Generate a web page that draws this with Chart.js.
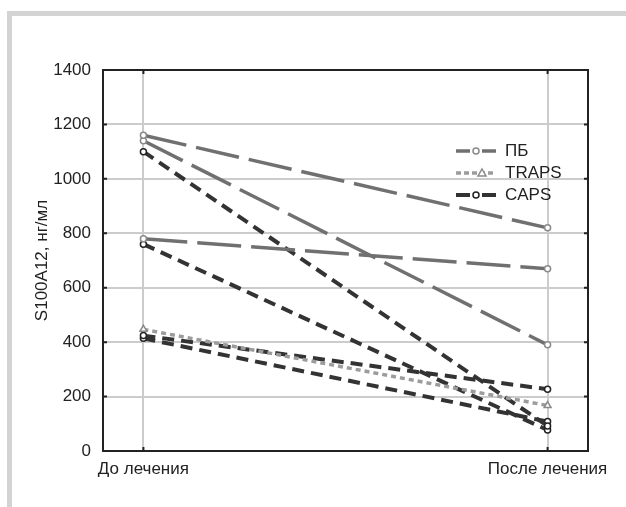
<!DOCTYPE html>
<html>
<head>
<meta charset="utf-8">
<script src="https://cdn.jsdelivr.net/npm/chart.js@4.4.1/dist/chart.umd.min.js"></script>
<style>
  html, body { margin: 0; padding: 0; background: #fff; }
  .frame {
    position: absolute; left: 7px; top: 11px; width: 619px; height: 496px;
    border-top: 5px solid #d3d3d3; border-left: 5px solid #d3d3d3;
    box-sizing: border-box;
  }
  #chart { position: absolute; left: 0; top: 0; }
</style>
</head>
<body>
<div class="frame"></div>
<canvas id="chart" width="626" height="507"></canvas>
<script>
const categories = ['До лечения', 'После лечения'];
const yTicks = [0, 200, 400, 600, 800, 1000, 1200, 1400];

// ПБ
const pbBefore = [1160, 1140, 780];
const pbAfter = [820, 390, 670];
// TRAPS
const trapsBefore = [447];
const trapsAfter = [167];
// CAPS
const capsBefore = [1100, 760, 424, 414];
const capsAfter = [92, 77, 227, 108];

const groups = [
  { name: 'ПБ', before: pbBefore, after: pbAfter, color: '#707070', width: 3.5, dash: [44, 10], point: 'circle', pointColor: '#8a8a8a' },
  { name: 'TRAPS', before: trapsBefore, after: trapsAfter, color: '#9c9c9c', width: 3.5, dash: [5, 4], point: 'triangle', pointColor: '#8a8a8a' },
  { name: 'CAPS', before: capsBefore, after: capsAfter, color: '#333333', width: 4, dash: [12, 7], point: 'circle', pointColor: '#222222' }
];

const datasets = [];
groups.forEach(g => {
  g.before.forEach((v, i) => {
    datasets.push({
      label: g.name,
      data: [{ x: 0, y: v }, { x: 1, y: g.after[i] }],
      borderColor: g.color,
      borderWidth: g.width,
      borderDash: g.dash,
      pointStyle: g.point,
      pointRadius: g.point === 'triangle' ? 4 : 3,
      pointBorderWidth: 1.5,
      pointBorderColor: g.pointColor,
      pointBackgroundColor: '#ffffff',
      fill: false
    });
  });
});

// рамка, внутренние риски и легенда
const framePlugin = {
  id: 'framePlugin',
  afterDraw(chart) {
    const { ctx, chartArea: a, scales } = chart;
    ctx.save();
    ctx.strokeStyle = '#222';
    ctx.lineWidth = 2;
    ctx.strokeRect(a.left, a.top, a.right - a.left, a.bottom - a.top);

    ctx.beginPath();
    yTicks.forEach(t => {
      const y = scales.y.getPixelForValue(t);
      ctx.moveTo(a.left, y); ctx.lineTo(a.left + 4, y);
      ctx.moveTo(a.right, y); ctx.lineTo(a.right - 4, y);
    });
    categories.forEach((c, i) => {
      const x = scales.x.getPixelForValue(i);
      ctx.moveTo(x, a.bottom); ctx.lineTo(x, a.bottom - 4);
      ctx.moveTo(x, a.top); ctx.lineTo(x, a.top + 4);
    });
    ctx.stroke();

    // легенда
    const lx = a.left + 353;
    let ly = a.top + 81;
    groups.forEach(g => {
      ctx.strokeStyle = g.color;
      ctx.lineWidth = g.width;
      ctx.setLineDash(g.name === 'TRAPS' ? [5, 3] : []);
      ctx.beginPath();
      if (g.name === 'TRAPS') {
        ctx.moveTo(lx, ly); ctx.lineTo(lx + 40, ly);
      } else {
        ctx.moveTo(lx, ly); ctx.lineTo(lx + 14, ly);
        ctx.moveTo(lx + 26, ly); ctx.lineTo(lx + 40, ly);
      }
      ctx.stroke();
      ctx.setLineDash([]);
      ctx.lineWidth = 1.5;
      ctx.strokeStyle = g.pointColor;
      ctx.fillStyle = '#fff';
      ctx.beginPath();
      if (g.point === 'triangle') {
        ctx.moveTo(lx + 26, ly - 4); ctx.lineTo(lx + 30, ly + 3); ctx.lineTo(lx + 22, ly + 3); ctx.closePath();
      } else {
        ctx.arc(lx + 20, ly, 3, 0, Math.PI * 2);
      }
      ctx.fill();
      ctx.stroke();
      ctx.fillStyle = '#222';
      ctx.font = '17px "Liberation Sans", Arial, sans-serif';
      ctx.textBaseline = 'middle';
      ctx.fillText(g.name, lx + 49, ly);
      ly += 22;
    });
    ctx.restore();
  }
};

Chart.defaults.font.family = '"Liberation Sans", Arial, sans-serif';
Chart.defaults.font.size = 17;
Chart.defaults.color = '#222';

new Chart(document.getElementById('chart'), {
  type: 'line',
  data: { datasets },
  plugins: [framePlugin],
  options: {
    responsive: false,
    animation: false,
    layout: { padding: { left: 28, top: 70, right: 38, bottom: 0 } },
    plugins: { legend: { display: false }, tooltip: { enabled: false } },
    scales: {
      x: {
        type: 'linear',
        min: -0.1,
        max: 1.1,
        afterBuildTicks: s => { s.ticks = categories.map((c, i) => ({ value: i })); },
        afterFit: s => { s.height = 56; },
        ticks: { callback: v => categories[v], padding: 8, maxRotation: 0 },
        grid: { color: '#cccccc', lineWidth: 2, drawTicks: false },
        border: { display: false }
      },
      y: {
        min: 0,
        max: 1400,
        afterBuildTicks: s => { s.ticks = yTicks.map(v => ({ value: v })); },
        afterFit: s => { s.width = 75; },
        ticks: { padding: 12, callback: v => String(v) },
        grid: { color: '#cccccc', lineWidth: 2, drawTicks: false },
        border: { display: false },
        title: { display: true, text: 'S100A12, нг/мл', font: { size: 17 }, padding: { top: 4, bottom: 4 } }
      }
    }
  }
});
</script>
</body>
</html>
